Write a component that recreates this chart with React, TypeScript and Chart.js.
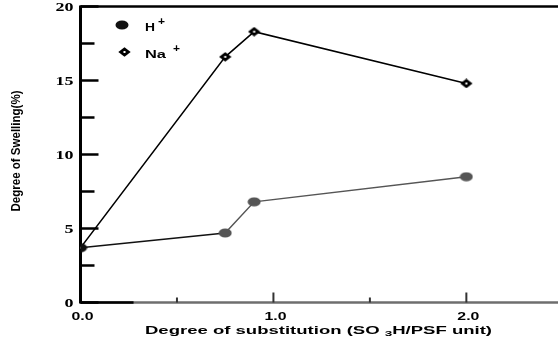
import React, { useEffect, useRef } from "react";
import { Chart, registerables } from "chart.js";

Chart.register(...registerables);

const xValues = [0, 0.75, 0.9, 2.0];
const hPlusValues = [3.7, 4.7, 6.8, 8.5];
const naPlusValues = [3.7, 16.6, 18.3, 14.8];

const yMajorTicks = [0, 5, 10, 15, 20];
const yTickLabels = ["0", "5", "10", "15", "20"];
const yMinorTicks = [2.5, 7.5, 12.5, 17.5];

const xMajorTicks = [1.0, 2.0];
const xMinorTicks = [0.5, 1.5];
const xLabelValues = [0, 1, 2];
const xTickLabels = ["0.0", "1.0", "2.0"];

const seriesNames = ["H", "Na"];
const xTitleParts = ["Degree of substitution (SO ", "3", "H/PSF unit)"];
const yTitle = "Degree of Swelling(%)";

function makeEllipse(color: string) {
  const c = document.createElement("canvas");
  c.width = 14;
  c.height = 10;
  const g = c.getContext("2d")!;
  g.fillStyle = color;
  g.beginPath();
  g.ellipse(7, 5, 6.5, 4.5, 0, 0, Math.PI * 2);
  g.fill();
  return c;
}

function makeDiamond() {
  const c = document.createElement("canvas");
  c.width = 13;
  c.height = 10;
  const g = c.getContext("2d")!;
  g.fillStyle = "#000";
  g.beginPath();
  g.moveTo(6.5, 0.3);
  g.lineTo(12.7, 5);
  g.lineTo(6.5, 9.7);
  g.lineTo(0.3, 5);
  g.closePath();
  g.fill();
  g.fillStyle = "#fff";
  g.fillRect(5.5, 4, 2, 2);
  return c;
}

function stretchText(
  ctx: CanvasRenderingContext2D,
  text: string,
  x: number,
  y: number,
  font: string,
  targetW: number,
  align: "left" | "center" | "right"
) {
  ctx.save();
  ctx.font = font;
  const w = ctx.measureText(text).width;
  const sx = targetW / w;
  let left = x;
  if (align === "center") left = x - targetW / 2;
  if (align === "right") left = x - targetW;
  ctx.translate(left, y);
  ctx.scale(sx, 1);
  ctx.textAlign = "left";
  ctx.textBaseline = "alphabetic";
  ctx.fillText(text, 0, 0);
  ctx.restore();
}

export default function App() {
  const ref = useRef<HTMLCanvasElement>(null);

  useEffect(() => {
    const blackEllipse = makeEllipse("#111");
    const grayEllipse = makeEllipse("#555");
    const diamond = makeDiamond();

    const axesPlugin = {
      id: "customAxes",
      beforeDatasetsDraw(chart: any) {
        const ctx: CanvasRenderingContext2D = chart.ctx;
        const xs = chart.scales.x;
        const ys = chart.scales.y;
        const x0 = xs.getPixelForValue(0);
        const y0 = ys.getPixelForValue(0);
        const yTop = ys.getPixelForValue(20);
        const right = chart.width;
        ctx.save();
        ctx.lineCap = "butt";
        // top border
        ctx.strokeStyle = "#000";
        ctx.lineWidth = 2.5;
        ctx.beginPath();
        ctx.moveTo(x0, yTop);
        ctx.lineTo(right, yTop);
        ctx.stroke();
        // x axis
        ctx.strokeStyle = "#6e6e6e";
        ctx.lineWidth = 2.5;
        ctx.beginPath();
        ctx.moveTo(x0, y0);
        ctx.lineTo(right, y0);
        ctx.stroke();
        ctx.strokeStyle = "#000";
        ctx.beginPath();
        ctx.moveTo(x0, y0);
        ctx.lineTo(xs.getPixelForValue(0.275), y0);
        ctx.stroke();
        // y axis
        ctx.lineWidth = 3;
        ctx.beginPath();
        ctx.moveTo(x0, yTop - 1);
        ctx.lineTo(x0, y0 + 1);
        ctx.stroke();
        // y ticks (inward)
        ctx.lineWidth = 2.5;
        yMajorTicks.forEach((v) => {
          const p = ys.getPixelForValue(v);
          ctx.beginPath();
          ctx.moveTo(x0, p);
          ctx.lineTo(x0 + 18, p);
          ctx.stroke();
        });
        yMinorTicks.forEach((v) => {
          const p = ys.getPixelForValue(v);
          ctx.beginPath();
          ctx.moveTo(x0, p);
          ctx.lineTo(x0 + 14, p);
          ctx.stroke();
        });
        // x ticks (inward)
        ctx.strokeStyle = "#333";
        ctx.lineWidth = 2;
        xMajorTicks.forEach((v) => {
          const p = xs.getPixelForValue(v);
          ctx.beginPath();
          ctx.moveTo(p, y0);
          ctx.lineTo(p, y0 - 10);
          ctx.stroke();
        });
        xMinorTicks.forEach((v) => {
          const p = xs.getPixelForValue(v);
          ctx.beginPath();
          ctx.moveTo(p, y0);
          ctx.lineTo(p, y0 - 5);
          ctx.stroke();
        });
        ctx.restore();
      },
      afterDraw(chart: any) {
        const ctx: CanvasRenderingContext2D = chart.ctx;
        const xs = chart.scales.x;
        const ys = chart.scales.y;
        const x0 = xs.getPixelForValue(0);
        ctx.save();
        ctx.fillStyle = "#000";
        // y tick labels
        yMajorTicks.forEach((v, i) => {
          const p = ys.getPixelForValue(v);
          const lbl = yTickLabels[i];
          stretchText(
            ctx,
            lbl,
            x0 - 7,
            p + 4.5,
            "bold 13px 'Liberation Serif'",
            lbl.length === 1 ? 9 : 18,
            "right"
          );
        });
        // x tick labels
        xLabelValues.forEach((v, i) => {
          const p = xs.getPixelForValue(v);
          stretchText(ctx, xTickLabels[i], p + 2, 319.5, "bold 11px 'Liberation Sans'", 22, "center");
        });
        // x title with subscript
        const mainFont = "bold 11px 'Liberation Sans'";
        const subFont = "bold 8px 'Liberation Sans'";
        ctx.font = mainFont;
        const w1 = ctx.measureText(xTitleParts[0]).width;
        const w3 = ctx.measureText(xTitleParts[2]).width;
        ctx.font = subFont;
        const w2 = ctx.measureText(xTitleParts[1]).width;
        const total = w1 + w2 + w3;
        const target = 347;
        const sx = target / total;
        ctx.translate(318.5 - target / 2, 333.5);
        ctx.scale(sx, 1);
        ctx.textBaseline = "alphabetic";
        ctx.textAlign = "left";
        ctx.font = mainFont;
        ctx.fillText(xTitleParts[0], 0, 0);
        ctx.font = subFont;
        ctx.fillText(xTitleParts[1], w1, 2);
        ctx.font = mainFont;
        ctx.fillText(xTitleParts[2], w1 + w2, 0);
        ctx.restore();

        // y title
        ctx.save();
        ctx.fillStyle = "#000";
        ctx.translate(20, 151);
        ctx.rotate(-Math.PI / 2);
        stretchText(ctx, yTitle, 0, 0, "bold 13px 'Liberation Sans'", 121, "center");
        ctx.restore();

        // legend
        ctx.save();
        ctx.drawImage(blackEllipse, 115, 20);
        ctx.drawImage(diamond, 118, 47);
        ctx.fillStyle = "#000";
        stretchText(ctx, seriesNames[0], 145, 31, "bold 11px 'Liberation Sans'", 10, "left");
        stretchText(ctx, "+", 158, 25, "bold 10px 'Liberation Sans'", 7, "left");
        stretchText(ctx, seriesNames[1], 145, 57.5, "bold 11px 'Liberation Sans'", 21, "left");
        stretchText(ctx, "+", 173, 52, "bold 10px 'Liberation Sans'", 7, "left");
        ctx.restore();
      },
    };

    const chart = new Chart(ref.current!, {
      type: "scatter",
      data: {
        datasets: [
          {
            label: "H+",
            data: xValues.map((x, i) => ({ x, y: hPlusValues[i] })),
            showLine: true,
            borderColor: "#555",
            borderWidth: 1.5,
            segment: {
              borderColor: (c: any) => (c.p0DataIndex === 0 ? "#111" : "#555"),
            },
            pointStyle: xValues.map((_, i) => (i === 0 ? blackEllipse : grayEllipse)) as any,
            pointRadius: 5,
          },
          {
            label: "Na+",
            data: xValues.map((x, i) => ({ x, y: naPlusValues[i] })),
            showLine: true,
            borderColor: "#000",
            borderWidth: 1.5,
            pointStyle: diamond as any,
            pointRadius: 5,
          },
        ],
      },
      options: {
        responsive: false,
        animation: false,
        events: [],
        layout: { autoPadding: false, padding: { left: 80.5, top: 6.5, right: 0, bottom: 40.5 } },
        plugins: {
          legend: { display: false },
          tooltip: { enabled: false },
        },
        scales: {
          x: { type: "linear", min: 0, max: 2.475, display: false },
          y: { type: "linear", min: 0, max: 20, display: false },
        },
      },
      plugins: [axesPlugin],
    });
    return () => chart.destroy();
  }, []);

  return (
    <div style={{ position: "fixed", left: 0, top: 0, width: 558, height: 343, background: "#fff" }}>
      <canvas ref={ref} width={558} height={343} style={{ display: "block" }} />
    </div>
  );
}
